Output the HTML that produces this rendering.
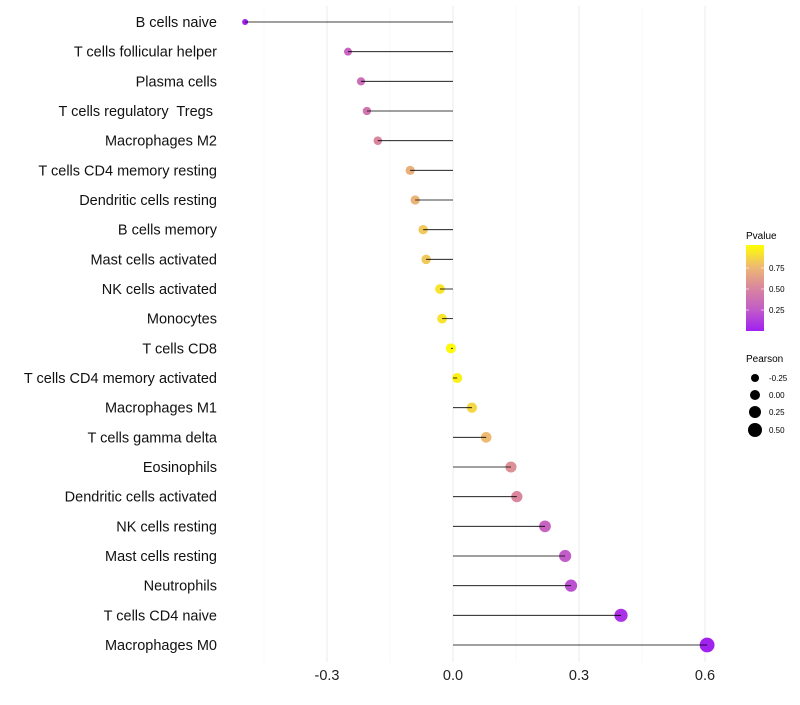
<!DOCTYPE html>
<html><head><meta charset="utf-8"><style>
body{margin:0;background:#fff;font-family:"Liberation Sans",sans-serif}
</style></head><body>
<svg id="chart" width="800" height="700">
<defs><linearGradient id="pg" x1="0" y1="1" x2="0" y2="0">
<stop offset="0" stop-color="#A020F0"/><stop offset="0.25" stop-color="#C25CC8"/>
<stop offset="0.5" stop-color="#D9869E"/><stop offset="0.75" stop-color="#EEBA72"/>
<stop offset="1" stop-color="#FFFF00"/></linearGradient></defs>
<g id="grid"></g><g id="dots"></g><g id="marks"></g><g id="ylab"></g><g id="xlab"></g>
<g>
<text x="746" y="239" font-size="10" fill="#000">Pvalue</text>
<rect x="746" y="245" width="18" height="86" fill="url(#pg)"/>
<line x1="746" y1="268" x2="749" y2="268" stroke="#fff" stroke-opacity="0.6"/><line x1="761" y1="268" x2="764" y2="268" stroke="#fff" stroke-opacity="0.6"/>
<line x1="746" y1="289" x2="749" y2="289" stroke="#fff" stroke-opacity="0.6"/><line x1="761" y1="289" x2="764" y2="289" stroke="#fff" stroke-opacity="0.6"/>
<line x1="746" y1="310" x2="749" y2="310" stroke="#fff" stroke-opacity="0.6"/><line x1="761" y1="310" x2="764" y2="310" stroke="#fff" stroke-opacity="0.6"/>
<text x="769" y="271" font-size="8">0.75</text><text x="769" y="292" font-size="8">0.50</text><text x="769" y="313" font-size="8">0.25</text>
</g>
<g>
<text x="746" y="362" font-size="10">Pearson</text>
<circle cx="755" cy="378" r="4"/><text x="769" y="381" font-size="8">-0.25</text>
<circle cx="755" cy="395" r="5"/><text x="769" y="398" font-size="8">0.00</text>
<circle cx="755" cy="412" r="6"/><text x="769" y="415" font-size="8">0.25</text>
<circle cx="755" cy="430" r="7"/><text x="769" y="433" font-size="8">0.50</text>
</g>
</svg>
<script>
const cells=["B cells naive","T cells follicular helper","Plasma cells","T cells regulatory  Tregs ","Macrophages M2","T cells CD4 memory resting","Dendritic cells resting","B cells memory","Mast cells activated","NK cells activated","Monocytes","T cells CD8","T cells CD4 memory activated","Macrophages M1","T cells gamma delta","Eosinophils","Dendritic cells activated","NK cells resting","Mast cells resting","Neutrophils","T cells CD4 naive","Macrophages M0"];
const pearson=[-0.495,-0.25,-0.219,-0.205,-0.179,-0.102,-0.09,-0.071,-0.064,-0.031,-0.026,-0.005,0.01,0.045,0.079,0.138,0.152,0.219,0.267,0.281,0.4,0.605];
const pvalue=[0.0,0.3,0.35,0.4,0.5,0.7,0.72,0.8,0.8,0.9,0.9,0.98,0.95,0.85,0.75,0.55,0.5,0.3,0.25,0.2,0.07,0.005];
const xticks=[-0.3,0.0,0.3,0.6];
const xminor=[-0.45,-0.15,0.15,0.45];
const NS="http://www.w3.org/2000/svg";
const X=v=>453+v*420, Y=i=>22+i*(623/21);
const R=v=>Math.max(1.5,5+v*4);
const stops=[[0,[160,32,240]],[0.25,[194,92,200]],[0.5,[217,134,158]],[0.75,[238,186,114]],[1,[255,255,0]]];
function col(p){for(let k=1;k<stops.length;k++){if(p<=stops[k][0]){const a=stops[k-1],b=stops[k],t=(p-a[0])/(b[0]-a[0]);return "rgb("+a[1].map((c,j)=>Math.round(c+(b[1][j]-c)*t)).join(",")+")";}}return "rgb(255,255,0)";}
function mk(t,at,parent){const e=document.createElementNS(NS,t);for(const k in at)e.setAttribute(k,at[k]);document.getElementById(parent).appendChild(e);return e;}
xminor.forEach(v=>{const l=mk("line",{x1:X(v),x2:X(v),y1:6,y2:662,stroke:"#f4f4f4","stroke-width":0.6},"grid");

});
xticks.forEach(v=>{const l=mk("line",{x1:X(v),x2:X(v),y1:6,y2:662,stroke:"#ebebeb","stroke-width":1},"grid");


const t=mk("text",{x:X(v),y:680,"text-anchor":"middle","font-size":14.5,fill:"#222"},"xlab");t.textContent=v.toFixed(1);

});
cells.forEach((c,i)=>{
const d=mk("circle",{cx:X(pearson[i]),cy:Y(i),r:R(pearson[i]),fill:col(pvalue[i])},"dots");


const l=mk("line",{x1:X(0),x2:X(pearson[i]),y1:Y(i),y2:Y(i),stroke:"#000","stroke-width":0.8},"marks");


const t=mk("text",{x:217,y:Y(i)+5,"text-anchor":"end","font-size":14.5,fill:"#111"},"ylab");t.textContent=c;t.setAttribute("xml:space","preserve");t.style.whiteSpace="pre";

});
</script>
</body></html>
